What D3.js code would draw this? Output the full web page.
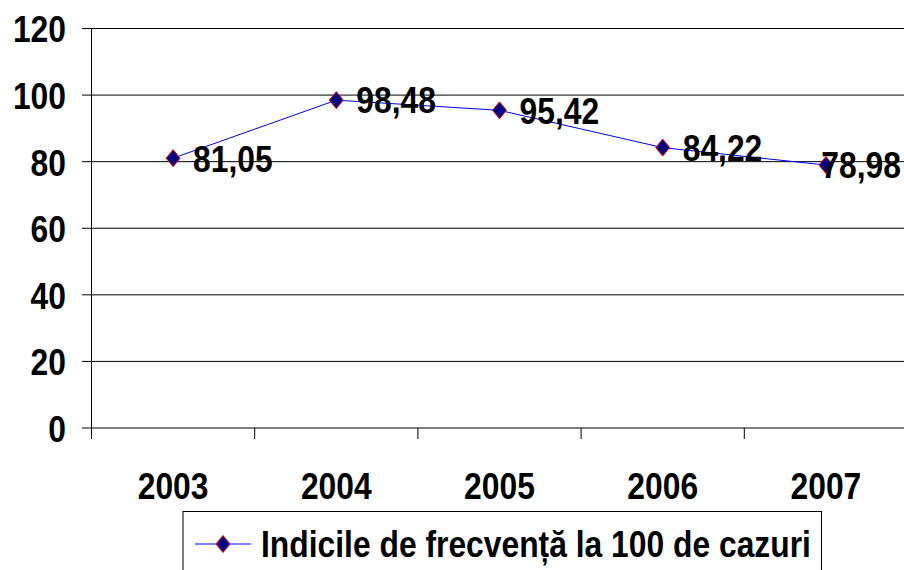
<!DOCTYPE html>
<html>
<head>
<meta charset="utf-8">
<script src="https://cdn.jsdelivr.net/npm/d3@7"></script>
<style>
  html, body { margin: 0; padding: 0; background: #fff; }
  svg { display: block; }
  text { font-family: "Liberation Sans", Arial, sans-serif; font-weight: bold; fill: #000; }
</style>
</head>
<body>
<script>
const years = ["2003", "2004", "2005", "2006", "2007"];
const values = [81.05, 98.48, 95.42, 84.22, 78.98];
const valueLabels = ["81,05", "98,48", "95,42", "84,22", "78,98"];
const yTicks = [0, 20, 40, 60, 80, 100, 120];
const seriesName = "Indicile de frecvență la 100 de cazuri";

const W = 904, H = 570;
const fontSize = 37;
const sx = 0.86; // horizontal condensation (Arial Narrow look)
const svg = d3.select("body").append("svg").attr("width", W).attr("height", H);

function narrow(sel, fx, fy, anchor) {
  sel.attr("x", 0).attr("y", 0).attr("dy", "0.36em")
    .attr("text-anchor", anchor || "start")
    .style("font-size", fontSize + "px")
    .attr("transform", (d, i) => `translate(${fx(d, i)},${fy(d, i)}) scale(${sx},1)`);
  return sel;
}

const x = d3.scaleBand().domain(years).range([91.5, 907.5]).paddingInner(0).paddingOuter(0);
const y = d3.scaleLinear().domain([0, 120]).range([428, 28.5]);

// gridlines
svg.append("g").selectAll("line").data(yTicks).join("line")
  .attr("x1", 82).attr("x2", 907.5)
  .attr("y1", d => y(d)).attr("y2", d => y(d))
  .attr("stroke", "#000").attr("stroke-width", 1);

// y axis (tick labels); tick groups are already translated to y(d)
const yAxis = d3.axisLeft(y).tickValues(yTicks).tickSize(0).tickFormat(d3.format("d"));
const gy = svg.append("g").call(yAxis);
gy.select(".domain").remove();
narrow(gy.selectAll("text"), () => 66, () => 0, "end").attr("fill", "#000");
svg.append("line").attr("x1", 91.5).attr("x2", 91.5).attr("y1", y(120)).attr("y2", 439).attr("stroke", "#000");

// x ticks at band boundaries
const bounds = years.map(d => x(d)).concat([x(years[years.length - 1]) + x.bandwidth()]);
svg.append("g").selectAll("line").data(bounds.slice(1)).join("line")
  .attr("x1", d => d).attr("x2", d => d).attr("y1", y(0)).attr("y2", 439)
  .attr("stroke", "#000");

// x labels
narrow(svg.append("g").selectAll("text").data(years).join("text").text(d => d),
  d => x(d) + x.bandwidth() / 2, () => 486, "middle");

// line
const pts = years.map((d, i) => [x(d) + x.bandwidth() / 2, y(values[i])]);
svg.append("path").attr("d", d3.line()(pts)).attr("fill", "none").attr("stroke", "#0000ff").attr("stroke-width", 1);

// markers
const diamond = "M0,-8.5L7,0L0,8.5L-7,0Z";
svg.append("g").selectAll("path").data(pts).join("path")
  .attr("transform", d => `translate(${d[0]},${d[1]})`)
  .attr("d", diamond).attr("fill", "#000080").attr("stroke", "#ff0000").attr("stroke-width", 1);

// data labels
const lbl = svg.append("g").selectAll("text").data(pts).join("text")
  .text((d, i) => valueLabels[i]);
const widths = [];
lbl.style("font-size", fontSize + "px").each(function(d, i) { widths[i] = this.getComputedTextLength() * sx; });
narrow(lbl, (d, i) => Math.min(d[0] + 20, W - widths[i] - 3), d => d[1], "start");

// legend
const lg = svg.append("g");
lg.append("rect").attr("x", 183).attr("y", 511.5).attr("width", 638.5).attr("height", 80)
  .attr("fill", "#fff").attr("stroke", "#000").attr("stroke-width", 1);
lg.append("line").attr("x1", 195).attr("x2", 251).attr("y1", 544).attr("y2", 544).attr("stroke", "#0000ff");
lg.append("path").attr("transform", "translate(223,544)").attr("d", diamond)
  .attr("fill", "#000080").attr("stroke", "#ff0000");
narrow(lg.append("text").datum(seriesName).text(d => d), () => 261, () => 544, "start");
</script>
</body>
</html>
